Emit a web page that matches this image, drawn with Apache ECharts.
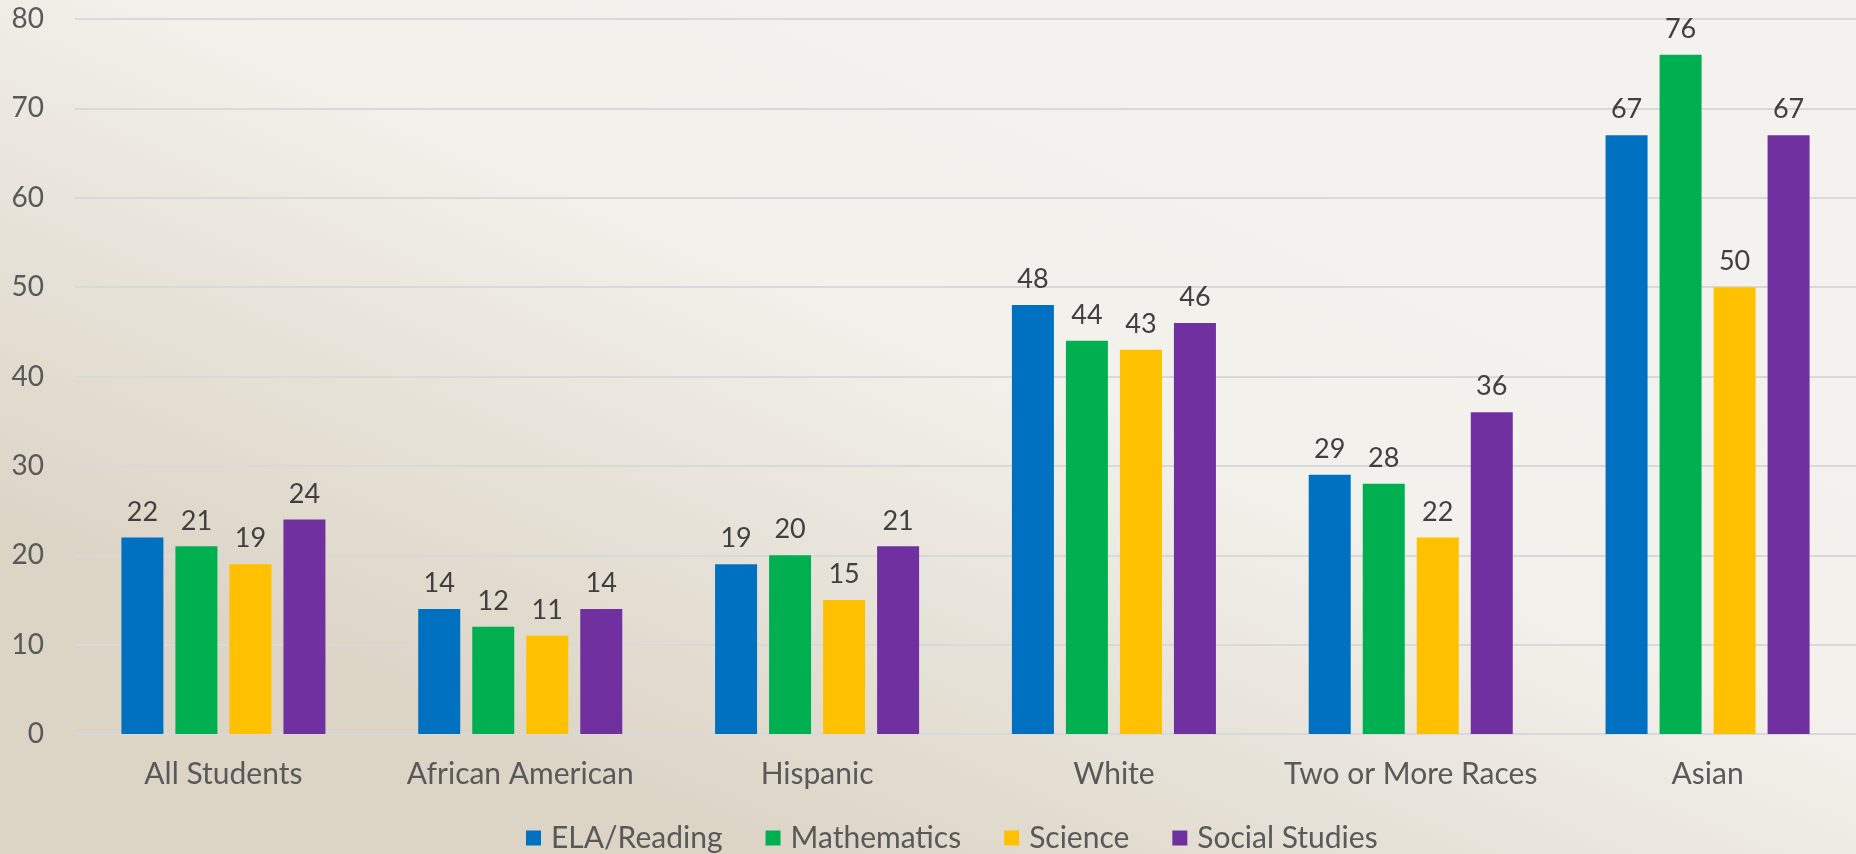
<!DOCTYPE html>
<html>
<head>
<meta charset="utf-8">
<script src="https://cdn.jsdelivr.net/npm/echarts@6/dist/echarts.min.js"></script>
<style>
html,body{margin:0;padding:0;}
#c{width:1856px;height:854px;}
</style>
</head>
<body>
<div id="c"></div>
<script>
const categories = ["All Students", "African American", "Hispanic", "White", "Two or More Races", "Asian"];
const seriesNames = ["ELA/Reading", "Mathematics", "Science", "Social Studies"];
const elaReading = [22, 14, 19, 48, 29, 67];
const mathematics = [21, 12, 20, 44, 28, 76];
const science = [19, 11, 15, 43, 22, 50];
const socialStudies = [24, 14, 21, 46, 36, 67];
const colors = ["#0070C0", "#00B050", "#FFC000", "#7030A0"];
const yMin = 0, yMax = 80, yStep = 10;

const FONT = "Lato, 'Open Sans', 'Liberation Sans', sans-serif";
const chart = echarts.init(document.getElementById('c'), null, {renderer: 'canvas'});
const values = [elaReading, mathematics, science, socialStudies];

chart.setOption({
  animation: false,
  backgroundColor: {
    type: 'linear', x: 0.4, y: 1, x2: 0.6, y2: 0,
    colorStops: [
      {offset: 0, color: '#dcd5c6'},
      {offset: 0.3, color: '#e7e2d8'},
      {offset: 0.6, color: '#f3f1ec'},
      {offset: 1, color: '#f4f2ee'}
    ]
  },
  grid: {left: 75, right: 0, top: 19, bottom: 120, containLabel: false},
  legend: {
    top: 818,
    left: 521,
    itemWidth: 15,
    itemHeight: 15,
    itemGap: 43,
    icon: 'rect',
    textStyle: {fontFamily: FONT, fontSize: 30, color: '#595959', padding: [0, 0, 0, 5]},
    data: seriesNames
  },
  xAxis: {
    type: 'category',
    data: categories,
    axisTick: {show: false},
    axisLine: {lineStyle: {color: '#d9d9dc', width: 2}},
    axisLabel: {interval: 0, fontFamily: FONT, fontSize: 30, color: '#595959', margin: 25}
  },
  yAxis: {
    type: 'value',
    min: yMin, max: yMax, interval: yStep,
    axisLine: {show: false},
    axisTick: {show: false},
    splitLine: {lineStyle: {color: '#d9d9d9', width: 2}},
    axisLabel: {fontFamily: FONT, fontSize: 28, color: '#595959', margin: 31}
  },
  series: seriesNames.map((n, i) => ({
    name: n,
    type: 'bar',
    data: values[i],
    barWidth: 42,
    barGap: '28.6%',
    itemStyle: {color: colors[i]},
    label: {
      show: true, position: 'top', distance: 12,
      fontFamily: FONT, fontSize: 27, color: '#404040'
    }
  }))
});
</script>
</body>
</html>
